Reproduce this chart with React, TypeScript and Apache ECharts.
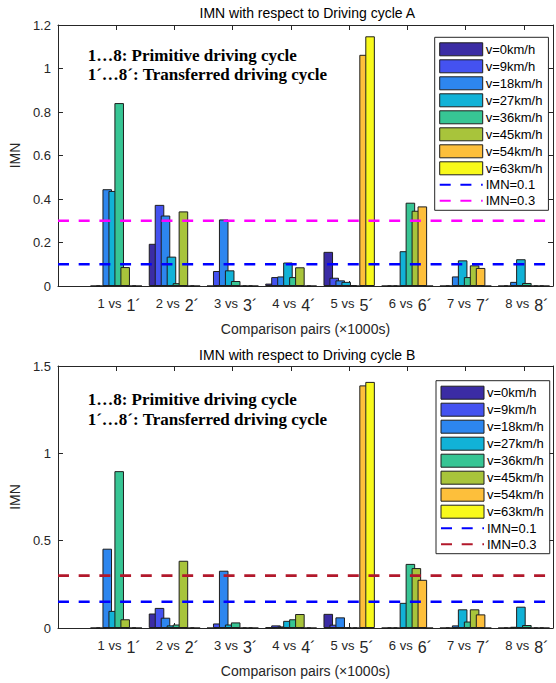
import React, { useEffect, useRef } from 'react';
import * as echarts from 'echarts';

// ---- categories / labels ----
const speedNames = ['v=0km/h', 'v=9km/h', 'v=18km/h', 'v=27km/h', 'v=36km/h', 'v=45km/h', 'v=54km/h', 'v=63km/h'];
const speedColors = ['#3b2ca4', '#4452f0', '#2d86ef', '#11b2d7', '#37c594', '#a8c43b', '#fdbf3b', '#f8f91b'];
const pairPositions = [1, 2, 3, 4, 5, 6, 7, 8];
const pairPrimitive = ['1 vs', '2 vs', '3 vs', '4 vs', '5 vs', '6 vs', '7 vs', '8 vs'];
const pairTransferred = ['1´', '2´', '3´', '4´', '5´', '6´', '7´', '8´'];

// ---- Driving cycle A ----
const A_v0 = [0, 0.194, 0, 0.011, 0.157, 0, 0, 0];
const A_v9 = [0, 0.373, 0.069, 0.041, 0.038, 0, 0, 0];
const A_v18 = [0.445, 0.324, 0.306, 0.044, 0.026, 0, 0.044, 0.019];
const A_v27 = [0.437, 0.135, 0.072, 0.108, 0.019, 0.16, 0.118, 0.123];
const A_v36 = [0.841, 0.013, 0.023, 0.041, 0.004, 0.383, 0.041, 0.014];
const A_v45 = [0.087, 0.343, 0, 0.086, 0, 0.346, 0.095, 0];
const A_v54 = [0, 0, 0, 0, 1.063, 0.366, 0.083, 0];
const A_v63 = [0, 0, 0, 0, 1.148, 0, 0, 0];
const A_thresholds = [0.1, 0.3];
const A_thresholdNames = ['IMN=0.1', 'IMN=0.3'];
const A_thresholdColors = ['#0000ff', '#ff00ff'];

// ---- Driving cycle B ----
const B_v0 = [0, 0.083, 0, 0.004, 0.081, 0, 0, 0];
const B_v9 = [0, 0.115, 0.026, 0.015, 0.019, 0, 0, 0];
const B_v18 = [0.454, 0.059, 0.328, 0.009, 0.061, 0, 0.015, 0.007];
const B_v27 = [0.098, 0.015, 0.02, 0.041, 0.003, 0.144, 0.107, 0.122];
const B_v36 = [0.898, 0.02, 0.032, 0.05, 0, 0.367, 0.037, 0.017];
const B_v45 = [0.05, 0.385, 0, 0.08, 0, 0.343, 0.107, 0];
const B_v54 = [0, 0, 0, 0, 1.389, 0.276, 0.078, 0];
const B_v63 = [0, 0, 0, 0, 1.409, 0, 0, 0];
const B_thresholds = [0.15, 0.3];
const B_thresholdNames = ['IMN=0.1', 'IMN=0.3'];
const B_thresholdColors = ['#0000ff', '#b2182b'];

const seriesA = [A_v0, A_v9, A_v18, A_v27, A_v36, A_v45, A_v54, A_v63];
const seriesB = [B_v0, B_v9, B_v18, B_v27, B_v36, B_v45, B_v54, B_v63];

const SANS = '"Liberation Sans", Arial, Helvetica, sans-serif';
const SERIF = '"Liberation Serif", "Times New Roman", serif';
const INK = '#262626';
const X_MAX = 8.5;
const UNIT = 59.75;
const GRID_LEFT = 53.3;

type Cfg = {
  title: string;
  titleY: number;
  plotHeight: number;
  yMax: number;
  yInterval: number;
  values: number[][];
  thresholds: number[];
  thresholdNames: string[];
  thresholdColors: string[];
  legendLeft: number;
  legendTop: number;
  noteTop: number;
  noteLineHeight: number;
  divTop: number;
  divHeight: number;
};

function buildOption(cfg: Cfg) {
  const axisLine = { show: true, onZero: false, lineStyle: { color: INK, width: 1 } };
  const axisTick = { show: true, inside: true, length: 5, lineStyle: { color: INK, width: 1 } };
  const xBase = {
    type: 'value', min: 0, max: X_MAX, interval: 1, gridIndex: 0,
    splitLine: { show: false }, axisLine, axisTick,
  };
  const yBase = {
    type: 'value', min: 0, max: cfg.yMax, interval: cfg.yInterval, gridIndex: 0,
    splitLine: { show: false }, axisLine, axisTick,
  };
  const bars = cfg.values.map((vals, i) => ({
    type: 'bar',
    name: speedNames[i],
    xAxisIndex: 0,
    yAxisIndex: 0,
    data: pairPositions.map((x, j) => [x, vals[j]]),
    barWidth: 9.56,
    barGap: '-37.5%',
    itemStyle: { color: speedColors[i], borderColor: '#1e1e1e', borderWidth: 1 },
    emphasis: { disabled: true },
    silent: true,
    z: 2,
  }));
  const lines = cfg.thresholds.map((t, i) => ({
    type: 'line',
    name: cfg.thresholdNames[i],
    xAxisIndex: 0,
    yAxisIndex: 0,
    data: [[0, t], [X_MAX, t]],
    symbol: 'none',
    lineStyle: { color: cfg.thresholdColors[i], width: 2.6, type: [11, 9.7] },
    itemStyle: { color: cfg.thresholdColors[i] },
    emphasis: { disabled: true },
    silent: true,
    z: 5,
  }));
  const legendData = [
    ...speedNames.map((n) => ({ name: n, icon: 'rect' })),
    ...cfg.thresholdNames.map((n) => ({
      name: n,
      itemStyle: { color: 'rgba(0,0,0,0)', borderWidth: 0, opacity: 0 },
    })),
  ];
  return {
    animation: false,
    backgroundColor: '#ffffff',
    grid: { left: GRID_LEFT, top: 25, width: UNIT * X_MAX, height: cfg.plotHeight },
    xAxis: [
      {
        ...xBase,
        position: 'bottom',
        name: 'Comparison pairs (×1000s)',
        nameLocation: 'middle',
        nameGap: 36,
        nameTextStyle: { fontFamily: SANS, fontSize: 14, color: INK },
        axisLabel: {
          show: true,
          margin: 11,
          padding: [0, 0, 0, 6],
          formatter: (v: number) => {
            const k = pairPositions.indexOf(v);
            return k < 0 ? '' : `{a|${pairPrimitive[k]} }{b|${pairTransferred[k]}}`;
          },
          rich: {
            a: { fontFamily: SANS, fontSize: 13, color: INK, padding: [0, 0, 4, 0] },
            b: { fontFamily: SANS, fontSize: 16, color: INK, padding: [0, 0, 0, 1.5] },
          },
        },
      },
      { ...xBase, position: 'top', axisLabel: { show: false } },
    ],
    yAxis: [
      {
        ...yBase,
        position: 'left',
        name: 'IMN',
        nameLocation: 'middle',
        nameGap: 33,
        nameTextStyle: { fontFamily: SANS, fontSize: 14, color: INK },
        axisLabel: { show: true, margin: 7, fontFamily: SANS, fontSize: 13, color: INK },
      },
      { ...yBase, position: 'right', axisLabel: { show: false } },
    ],
    legend: {
      orient: 'vertical',
      left: cfg.legendLeft,
      top: cfg.legendTop,
      itemWidth: 43,
      itemHeight: 13,
      itemGap: 3,
      padding: [5, 6, 3, 4],
      borderColor: INK,
      borderWidth: 1,
      borderRadius: 0,
      backgroundColor: '#ffffff',
      selectedMode: false,
      itemStyle: { borderColor: '#1e1e1e', borderWidth: 1 },
      textStyle: { fontFamily: SANS, fontSize: 13, color: '#000000', padding: [0, 0, 0, -2] },
      data: legendData,
    },
    graphic: [
      {
        type: 'text',
        x: GRID_LEFT + (UNIT * X_MAX) / 2,
        y: cfg.titleY,
        silent: true,
        style: {
          text: cfg.title,
          fill: '#000000',
          fontFamily: SANS,
          fontSize: 14,
          align: 'center',
          verticalAlign: 'middle',
        },
      },
      {
        type: 'text',
        x: 87.7,
        y: cfg.noteTop,
        silent: true,
        z: 10,
        style: {
          text: '1…8: Primitive driving cycle\n1´…8´: Transferred driving cycle',
          fill: '#000000',
          fontFamily: SERIF,
          fontWeight: 'bold',
          fontSize: 17,
          lineHeight: cfg.noteLineHeight,
          align: 'left',
          verticalAlign: 'top',
        },
      },
    ],
    series: [...bars, ...lines],
  };
}

const cfgA: Cfg = {
  title: 'IMN with respect to Driving cycle A',
  titleY: 12.7,
  plotHeight: 268.5,
  yMax: 1.2,
  yInterval: 0.2,
  values: seriesA,
  thresholds: A_thresholds,
  thresholdNames: A_thresholdNames,
  thresholdColors: A_thresholdColors,
  legendLeft: 434.7,
  legendTop: 37.3,
  noteTop: 45.4,
  noteLineHeight: 19.4,
  divTop: 0,
  divHeight: 341,
};

const cfgB: Cfg = {
  title: 'IMN with respect to Driving cycle B',
  titleY: 14,
  plotHeight: 270,
  yMax: 1.5,
  yInterval: 0.5,
  values: seriesB,
  thresholds: B_thresholds,
  thresholdNames: B_thresholdNames,
  thresholdColors: B_thresholdColors,
  legendLeft: 436,
  legendTop: 39.7,
  noteTop: 48,
  noteLineHeight: 20.2,
  divTop: 341,
  divHeight: 342,
};

function Chart({ cfg }: { cfg: Cfg }) {
  const ref = useRef<HTMLDivElement>(null);
  useEffect(() => {
    if (!ref.current) return;
    const chart = echarts.init(ref.current, undefined, { renderer: 'svg' });
    chart.setOption(buildOption(cfg) as any);
    return () => chart.dispose();
  }, [cfg]);
  return (
    <div
      ref={ref}
      style={{ position: 'absolute', left: 0, top: cfg.divTop, width: 556, height: cfg.divHeight }}
    />
  );
}

export default function App() {
  return (
    <div
      style={{
        position: 'fixed', left: 0, top: 0, width: 556, height: 683,
        background: '#ffffff', overflow: 'hidden',
      }}
    >
      <Chart cfg={cfgA} />
      <Chart cfg={cfgB} />
    </div>
  );
}
